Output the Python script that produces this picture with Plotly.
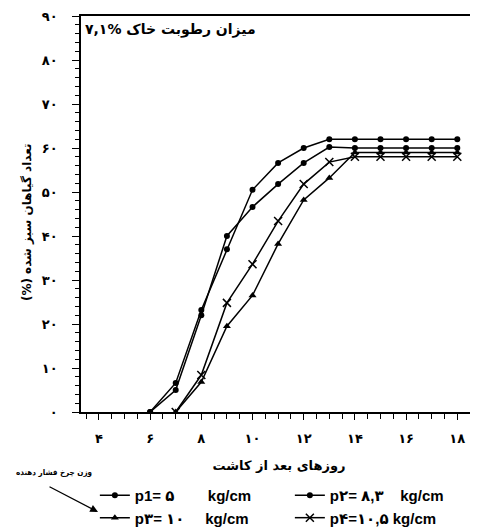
import plotly.graph_objects as go

# ---- data ----
days = [6, 7, 8, 9, 10, 11, 12, 13, 14, 15, 16, 17, 18]
p1 = [0, 6.6, 23.2, 37, 50.5, 56.6, 60, 62, 62, 62, 62, 62, 62]
p2 = [0, 5, 22, 40, 46.6, 51.8, 56.6, 60.2, 60, 60, 60, 60, 60]
p3 = [None, 0, 6.8, 19.5, 26.5, 38.2, 48.2, 53.2, 59, 59, 59, 59, 59]
p4 = [None, 0, 8.4, 24.8, 33.6, 43.4, 51.8, 56.8, 58, 58, 58, 58, 58]

NB = "\u00a0"
series_names = [
    "p1=" + NB + "۵" + NB * 8 + "kg/cm",
    "p۲=" + NB + "۸,۳" + NB * 4 + "kg/cm",
    "p۳=" + NB + "۱۰" + NB * 5 + "kg/cm",
    "p۴=۱۰,۵" + NB + "kg/cm",
]

x_tickvals = [4, 6, 8, 10, 12, 14, 16, 18]
x_ticktext = ["۴", "۶", "۸", "۱۰", "۱۲", "۱۴", "۱۶", "۱۸"]
y_tickvals = [0, 10, 20, 30, 40, 50, 60, 70, 80, 90]
y_ticktext = ["۰", "۱۰", "۲۰", "۳۰", "۴۰", "۵۰", "۶۰", "۷۰", "۸۰", "۹۰"]

title_text = "میزان رطوبت خاک %۷,۱"
x_title = "روزهای بعد از کاشت"
y_title = "تعداد گیاهان سبز شده (%)\u200f"
legend_note = "وزن چرخ فشار دهنده"

FONT = "Liberation Sans, DejaVu Sans, Arial, sans-serif"
AR_FONT = "DejaVu Sans"

fig = go.Figure()
styles = [
    dict(symbol="circle", size=6),
    dict(symbol="circle", size=6),
    dict(symbol="triangle-up", size=7),
    dict(symbol="x-thin", size=8, line=dict(width=1.5, color="black")),
]
for ys, name, st in zip([p1, p2, p3, p4], series_names, styles):
    fig.add_trace(go.Scatter(
        x=days, y=ys, name=name, mode="lines+markers",
        line=dict(color="black", width=1.5),
        marker=dict(color="black", **st),
    ))

axis_common = dict(
    showline=True, linecolor="black", linewidth=1.5, mirror=True,
    showgrid=False, zeroline=False, ticks="outside", tickcolor="black",
    tickfont=dict(family=AR_FONT, size=13, color="black", weight="bold"),
)

fig.update_xaxes(
    range=[3.3, 18.77], tickmode="array", tickvals=x_tickvals, ticktext=x_ticktext,
    ticklen=6, tickwidth=1.2, ticklabelstandoff=8,
    minor=dict(dtick=0.5, tick0=0, ticks="outside", ticklen=5, tickcolor="black", tickwidth=1.2),
    title=dict(text=x_title, font=dict(family=AR_FONT, size=13, color="black", weight="bold"), standoff=16),
    **axis_common,
)
fig.update_yaxes(
    range=[0, 90], tickmode="array", tickvals=y_tickvals, ticktext=y_ticktext,
    ticklen=7, tickwidth=1.2, ticklabelstandoff=12,
    minor=dict(dtick=2, tick0=0, ticks="outside", ticklen=4, tickcolor="black", tickwidth=1),
    **axis_common,
)

# y-axis title placed as a rotated annotation
fig.add_annotation(
    x=-0.136, y=0.48, xref="paper", yref="paper", xanchor="center", yanchor="middle",
    text=y_title, textangle=-90, showarrow=False,
    font=dict(family=AR_FONT, size=12, color="black", weight="bold"),
)
fig.add_annotation(
    x=0.005, y=0.965, xref="paper", yref="paper", xanchor="left", yanchor="middle",
    text=title_text, showarrow=False,
    font=dict(family=AR_FONT, size=14, color="black", weight="bold"),
)
fig.add_annotation(
    x=-0.068, y=-0.154, xref="paper", yref="paper", xanchor="center", yanchor="middle",
    text=legend_note, showarrow=False,
    font=dict(family="DejaVu Sans Condensed, DejaVu Sans", size=8, color="black", weight="bold"),
)
fig.add_annotation(
    x=0.043, y=-0.2525, xref="paper", yref="paper", text="", showarrow=True,
    arrowhead=2, arrowsize=1.2, arrowwidth=1.3, arrowcolor="black", ax=-50, ay=-26,
)

# the page body has an 8px default margin: shift everything by it
fig.update_layout(
    width=470, height=519,
    margin=dict(l=73, r=1, t=8, b=115, autoexpand=False),
    paper_bgcolor="white", plot_bgcolor="white",
    showlegend=True,
    legend=dict(
        orientation="h", x=0.035, y=-0.169, xanchor="left", yanchor="top",
        entrywidth=150, entrywidthmode="pixels", itemwidth=30,
        font=dict(family=FONT, size=15, color="black", weight="bold"),
        bgcolor="rgba(0,0,0,0)", tracegroupgap=0,
    ),
    font=dict(family=FONT, color="black"),
)

fig.write_html("out.html")
